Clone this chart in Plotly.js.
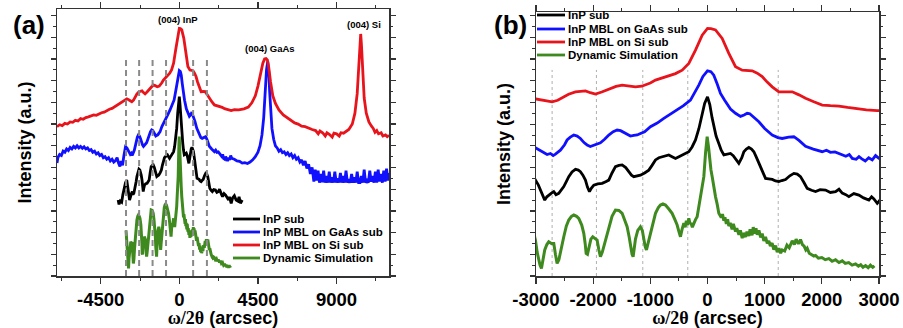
<!DOCTYPE html>
<html><head><meta charset="utf-8">
<script src="https://cdn.plot.ly/plotly-3.0.1.min.js"></script>
<style>html,body{margin:0;padding:0;background:#fff}#chart{width:903px;height:328px}</style>
</head><body><div id="chart"></div>
<script>
// ---------- DATA (omega/2theta in arcsec, intensity in arbitrary offset units) ----------
const seriesNames = ['InP sub', 'InP MBL on GaAs sub', 'InP MBL on Si sub', 'Dynamic Simulation'];

const redX = [-7000,-6850,-6700,-6550,-6400,-6250,-6100,-5950,-5800,-5650,-5500,-5350,-5200,-5050,-4900,-4750,-4600,-4450,-4300,-4150,-4000,-3850,-3700,-3550,-3400,-3250,-3120,
 -3000,-2900,-2800,-2718,-2620,-2543,-2430,-2310,-2200,-2135,-2050,-1960,-1850,-1727,-1600,-1493,-1380,-1260,-1150,-1085,-1000,-910,-800,-677,-560,-443,-327,-210,-93,0,60,140,257,373,490,607,700,782,870,957,1040,1132,1248,1360,1482,1600,1715,1860,2007,2150,2298,2450,2590,2780,2969,
 3150,3400,3700,3950,4150,4350,4500,4650,4780,4880,4960,5040,5120,5220,5350,5500,5700,5950,6250,6600,6800,7000,7200,7400,7600,7800,7950,8050,8200,8350,8450,8600,8750,8850,9000,9150,9250,9400,9550,9700,9900,10050,10180,10280,10340,10380,10420,10480,10580,10700,10850,11000,11100,11200,11300,11400,11550,11650,11800,11900,12000];
const redY = [6.88,6.97,6.93,7.03,7.0,7.1,7.08,7.17,7.14,7.25,7.22,7.3,7.33,7.36,7.42,7.4,7.48,7.52,7.55,7.62,7.68,7.72,7.8,7.86,7.95,8.05,8.12,
 8.16,8.12,8.07,8.03,8.1,8.23,8.38,8.49,8.53,8.53,8.45,8.39,8.48,8.6,8.74,8.8,8.77,8.72,8.75,8.8,8.9,9.03,9.12,9.22,9.33,9.49,9.8,10.41,11.1,11.41,11.4,11.34,10.95,10.26,9.65,9.49,9.48,9.46,9.35,9.19,8.95,8.72,8.49,8.5,8.49,8.35,8.19,8.03,7.88,7.85,7.83,7.77,7.71,7.66,7.62,
 7.66,7.65,7.7,7.78,7.98,8.3,8.75,9.3,9.8,10.0,10.02,9.95,9.6,8.95,8.3,7.95,7.65,7.42,7.25,7.05,7.0,6.9,6.88,6.8,6.75,6.7,6.55,6.68,6.6,6.45,6.6,6.52,6.4,6.58,6.55,6.45,6.6,6.58,6.65,6.75,7.0,7.5,8.4,9.8,10.8,11.15,10.7,9.5,8.2,7.5,7.1,6.9,6.8,6.62,6.7,6.55,6.6,6.45,6.5,6.42,6.48];

const blueX = [-7000,-6950,-6850,-6750,-6650,-6550,-6450,-6350,-6250,-6150,-6050,-5950,-5850,-5750,-5650,-5550,-5450,-5350,-5250,-5150,-5050,-4950,-4850,-4750,-4650,-4550,-4450,-4350,-4250,-4150,-4050,-3950,-3850,-3750,-3650,-3560,-3480,-3400,-3330,-3250,-3170,-3080,
 -3000,-2930,-2870,-2806,-2748,-2700,-2660,-2573,-2500,-2456,-2400,-2339,-2280,-2223,-2160,-2106,-2050,-2018,-1950,-1873,-1800,-1727,-1650,-1581,-1520,-1464,-1400,-1348,-1290,-1230,-1172,-1100,-998,-880,-764,-650,-531,-420,-298,-220,-152,-80,0,60,110,170,227,300,402,490,577,640,694,740,800,898,1000,1132,1230,1307,1420,1511,1600,1715,1850,2007,2080,2150,2230,2298,2360,2420,2480,2532,2600,2650,2700,2760,2820,2882,2940,3000,
 3150,3300,3450,3600,3750,3900,4050,4200,4350,4500,4620,4730,4830,4920,4990,5060,5120,5170,5230,5300,5400,5500,5600,5700,5800,5900,6000,6100,6200,6300,6400,6500,6600,6700,6800,6900,7000,7100,7200,7300,7400,7500,7600,
 7700,7780,7860,7940,8020,8100,8180,8260,8340,8420,8500,8580,8660,8740,8820,8900,8980,9060,9140,9220,9300,9380,9460,9540,9620,9700,9780,9860,9940,10020,10100,10180,10260,10340,10420,10500,10580,10660,10740,10820,10900,10980,11060,11140,11220,11300,11380,11460,11540,11620,11700,11780,11860,11940,12000];
const blueY = [5.2,5.45,5.6,5.55,5.75,5.7,5.85,5.78,5.92,5.85,5.97,5.9,6.0,5.9,5.97,5.88,5.95,5.85,5.9,5.78,5.82,5.7,5.75,5.62,5.68,5.55,5.6,5.45,5.5,5.38,5.45,5.3,5.38,5.25,5.32,5.45,5.2,5.05,5.3,5.1,5.55,5.95,
 5.9,5.8,5.7,5.6,5.65,5.55,5.62,5.8,6.05,6.27,6.4,6.5,6.45,6.34,6.15,6.04,5.97,6.0,6.05,6.14,6.3,6.5,6.65,6.73,6.7,6.62,6.5,6.45,6.48,6.5,6.57,6.65,6.88,7.05,7.27,7.45,7.65,7.85,8.11,8.45,8.8,9.2,9.46,9.42,9.26,8.85,8.42,8.1,7.7,7.5,7.36,7.42,7.5,7.48,7.35,7.11,6.8,6.5,6.38,6.34,6.4,6.42,6.25,5.98,5.85,5.73,5.8,5.7,5.72,5.65,5.58,5.52,5.6,5.42,5.38,5.5,5.4,5.3,5.45,5.35,5.55,5.42,
 5.38,5.3,5.28,5.2,5.22,5.18,5.25,5.35,5.5,5.7,6.0,6.5,7.3,8.6,9.5,9.88,9.4,8.5,7.5,6.8,6.3,6.0,5.9,5.75,5.82,5.68,5.72,5.6,5.68,5.55,5.62,5.45,5.55,5.38,5.45,5.25,5.35,5.1,5.3,4.95,5.15,4.7,5.0,
 4.35,4.9,4.4,4.85,4.3,4.7,4.32,4.85,4.3,4.6,4.3,4.8,4.3,4.55,4.3,4.8,4.3,4.5,4.3,4.75,4.3,4.6,4.3,4.85,4.3,4.45,4.3,4.7,4.3,4.55,4.3,4.8,4.3,4.3,4.6,4.3,4.9,4.3,4.4,4.3,4.85,4.35,4.6,4.3,4.8,4.3,4.9,4.35,4.7,4.3,4.85,4.35,4.95,4.4,4.75];

const blackX = [-3500,-3450,-3380,-3300,-3230,-3150,-3080,
 -3010,-2960,-2922,-2880,-2847,-2810,-2777,-2730,-2689,-2650,-2602,-2560,-2514,-2470,-2427,-2370,-2310,-2260,-2223,-2180,-2135,-2100,-2065,-2030,-1989,-1920,-1843,-1780,-1727,-1670,-1610,-1550,-1493,-1430,-1377,-1330,-1289,-1230,-1173,-1100,-1027,-970,-910,-850,-793,-740,-677,-620,-560,-500,-443,-380,-327,-270,-210,-150,-93,-50,0,40,80,111,150,198,240,286,340,402,450,490,548,600,636,680,723,770,811,850,898,950,1015,1070,1132,1190,1248,1300,1365,1440,1511,1570,1627,1690,1744,1820,1890,1970,2065,2150,2240,2300,2357,2420,2473,2560,2648,2730,2823,2870,2911,2969,
 3050,3150,3250,3350,3420,3500,3600];
const blackY = [3.5,3.3,3.45,3.4,3.75,4.1,4.3,
 4.42,4.2,3.96,3.7,3.5,3.65,3.73,3.82,3.89,3.75,3.81,3.95,4.12,4.35,4.58,4.8,4.92,4.88,4.81,4.65,4.42,4.1,3.89,4.05,4.19,4.25,4.27,4.35,4.42,4.75,5.04,5.1,5.12,5.0,4.81,4.65,4.58,4.62,4.65,4.75,4.88,5.1,5.35,5.45,5.5,5.55,5.58,5.5,5.42,5.5,5.58,5.65,5.73,5.95,6.27,6.8,7.5,7.95,8.26,7.9,7.3,6.88,6.45,6.11,5.8,5.58,5.6,5.65,5.55,5.42,5.19,5.45,5.73,5.85,5.93,5.85,5.73,5.5,5.19,4.85,4.5,4.48,4.45,4.38,4.35,4.4,4.45,4.62,4.73,4.7,4.58,4.3,4.04,3.95,3.89,3.98,3.96,3.85,3.89,4.0,3.82,3.75,3.66,3.8,3.73,3.6,3.5,3.65,3.55,3.35,
 3.6,3.7,3.5,3.45,3.65,3.35,3.5];

const greenX = [-3050,-3010,-2980,-2952,-2930,-2905,-2880,-2847,-2810,-2777,-2730,-2689,-2660,-2631,-2600,-2560,-2514,-2470,-2427,-2380,-2339,-2290,-2252,-2200,-2164,-2140,-2123,-2100,-2077,-2040,-2007,-1970,-1931,-1900,-1873,-1840,-1814,-1770,-1727,-1670,-1610,-1550,-1493,-1450,-1406,-1370,-1348,-1320,-1301,-1280,-1260,-1220,-1173,-1140,-1114,-1090,-1068,-1040,-998,-950,-910,-860,-823,-780,-735,-680,-619,-570,-531,-500,-473,-445,-414,-390,-370,-350,-327,-305,-290,-265,-239,-210,-181,-150,-123,-90,-64,-35,-6,20,35,60,82,110,140,170,198,
 240,262,286,305,330,352,373,398,430,452,490,512,550,575,607,628,665,690,723,745,780,800,825,848,870,900,930,957,985,1015,1045,1073,1100,1130,1160,1190,1220,1250,1280,1307,1350,1390,1430,1482,1520,1550,1590,1627,1660,1690,1720,1744,1780,1820,1860,1890,1940,2000,2060,2123,2180,2240,2300,2357,2410,2470,2530,2590,2640,2680,2720,2765,2810,2850,2890,2920];
const greenY = [2.1,1.66,1.1,0.74,0.5,0.35,0.8,1.2,1.45,1.58,1.5,1.5,1.0,0.58,0.75,1.3,1.81,2.3,2.58,2.75,2.81,2.75,2.66,2.35,1.97,1.5,1.04,1.0,1.3,1.7,1.81,1.75,1.66,1.2,0.89,1.1,1.35,1.85,2.27,2.75,3.04,3.02,2.89,2.6,2.27,1.8,1.35,1.0,0.89,1.3,1.7,2.1,2.27,2.1,1.7,1.35,1.2,1.5,1.97,2.5,2.89,3.15,3.27,3.32,3.27,3.1,2.89,2.6,2.35,2.05,1.81,2.15,2.43,2.25,2.55,2.35,2.66,2.4,2.45,2.25,2.43,2.6,2.73,3.2,3.66,4.1,4.58,5.65,6.42,5.9,5.35,4.9,4.58,4.1,3.66,3.3,2.89,
 2.7,2.85,2.55,2.7,2.4,2.62,2.3,2.45,2.15,2.4,2.05,2.2,1.9,2.1,1.75,1.98,1.8,2.05,1.85,2.15,1.88,2.25,1.95,2.2,1.9,2.1,1.78,1.95,1.62,1.8,1.5,1.62,1.38,1.52,1.22,1.4,1.1,1.28,1.05,1.2,1.15,1.42,1.3,1.62,1.45,1.7,1.48,1.68,1.45,1.38,1.2,1.28,1.05,1.0,0.92,0.95,0.82,0.85,0.75,0.8,0.68,0.75,0.62,0.7,0.58,0.62,0.5,0.56,0.45,0.52,0.4,0.48,0.38,0.5,0.4,0.47];

// reference guide lines
const dashX = [-3050, -2300, -1530, -760, 790, 1580];   // panel (a) dashed fringe markers
const dashTop = 9.95;
const dotX = [-2718, -1943, -1132, -345, 1237];          // panel (b) dotted fringe markers
const dotTop = 9.5;

// axis tick labels
const ticksA = [-4500, 0, 4500, 9000];
const tickTextA = ['-4500', '0', '4500', '9000'];
const ticksB = [-3000, -2000, -1000, 0, 1000, 2000, 3000];
const tickTextB = ['-3000', '-2000', '-1000', '0', '1000', '2000', '3000'];

// peak labels [text, x, y]
const peakLabels = [['(004) InP', -100, 11.82], ['(004) GaAs', 5214, 10.5], ['(004) Si', 10543, 11.57]];

// ---------- STYLE ----------
const W = 903, H = 328;
const FONT = 'Liberation Sans, Arial, sans-serif';
const colors = ['#000000', '#1010ff', '#e8141c', '#3e8a1e'];
const widths = [2.8, 2.8, 2.8, 3];
const seriesX = [blackX, blueX, redX, greenX];
const seriesY = [blackY, blueY, redY, greenY];
const fx = p => p / W, fy = p => (H - p) / H;

function guide(xs, top) {
  const x = [], y = [];
  xs.forEach(v => { x.push(v, v, null); y.push(0, top, null); });
  return {x, y};
}

const traces = [];
const drawOrder = [3, 0, 1, 2];
['a', 'b'].forEach(p => {
  const xa = p === 'a' ? 'x' : 'x2', ya = p === 'a' ? 'y' : 'y2';
  drawOrder.forEach(i => {
    traces.push({type: 'scatter', mode: 'lines', x: seriesX[i], y: seriesY[i], name: seriesNames[i],
      xaxis: xa, yaxis: ya, line: {color: colors[i], width: widths[i]}, hoverinfo: 'skip', showlegend: false});
  });
});
const gA = guide(dashX, dashTop), gB = guide(dotX, dotTop);
traces.push({type: 'scatter', mode: 'lines', x: gA.x, y: gA.y, xaxis: 'x', yaxis: 'y',
  line: {color: '#8a8a8a', width: 2, dash: '6px,4px'}, hoverinfo: 'skip', showlegend: false});
traces.unshift({type: 'scatter', mode: 'lines', x: gB.x, y: gB.y, xaxis: 'x2', yaxis: 'y2',
  line: {color: '#b0b0b0', width: 1, dash: 'dot'}, hoverinfo: 'skip', showlegend: false});

const tickFont = {family: FONT, size: 18.5, color: '#000', weight: 'bold'};
const titleFont = {family: FONT, size: 18, color: '#000', weight: 'bold'};
const xTitle = '<span style="font-family:Liberation Serif">ω/2θ</span> (arcsec)';

function xAxis(domain, range, vals, texts, minorD) {
  return {domain, range, tickmode: 'array', tickvals: vals, ticktext: texts, ticks: 'outside', ticklen: 6, tickwidth: 1.3,
    tickcolor: '#333', showline: true, linecolor: '#333', linewidth: 1.5, mirror: 'ticks', showgrid: false, zeroline: false,
    minor: {ticks: 'outside', ticklen: 3, tickwidth: 1, tickcolor: '#333', dtick: minorD, tick0: 0, showgrid: false},
    tickfont: tickFont, title: {text: xTitle, font: titleFont, standoff: 3}, fixedrange: true};
}
function yAxis(domain, range, anchor) {
  return {domain, range, anchor, tickmode: 'linear', tick0: 0, dtick: 1, ticks: 'outside', ticklen: 5, tickwidth: 1.3,
    tickcolor: '#333', showticklabels: false, showline: true, linecolor: '#333', linewidth: 1.5, mirror: 'ticks',
    showgrid: false, zeroline: false,
    minor: {ticks: 'outside', ticklen: 2.5, tickwidth: 1, tickcolor: '#333', dtick: 0.5, tick0: 0, showgrid: false},
    title: {text: 'Intensity (a.u.)', font: titleFont, standoff: 14}, fixedrange: true};
}

const annotations = [];
annotations.push({xref: 'paper', yref: 'paper', x: fx(29), y: fy(25), text: '(a)', showarrow: false,
  xanchor: 'center', yanchor: 'middle', font: {family: FONT, size: 26, color: '#000', weight: 'bold'}});
annotations.push({xref: 'paper', yref: 'paper', x: fx(510), y: fy(25), text: '(b)', showarrow: false,
  xanchor: 'center', yanchor: 'middle', font: {family: FONT, size: 26, color: '#000', weight: 'bold'}});
peakLabels.forEach(([t, x, y]) => annotations.push({xref: 'x', yref: 'y', x, y, text: t, showarrow: false,
  xanchor: 'center', yanchor: 'middle', font: {family: FONT, size: 9.5, color: '#000', weight: 'bold'}}));

const shapes = [];
function legend(lx0, lx1, tx, rows) {
  seriesNames.forEach((n, i) => {
    shapes.push({type: 'line', xref: 'paper', yref: 'paper', x0: fx(lx0), x1: fx(lx1), y0: fy(rows[i]), y1: fy(rows[i]),
      line: {color: colors[i], width: 2.8}});
    annotations.push({xref: 'paper', yref: 'paper', x: fx(tx), y: fy(rows[i]), text: n, showarrow: false,
      xanchor: 'left', yanchor: 'middle', font: {family: FONT, size: 11.5, color: '#000', weight: 'bold'}});
  });
}
legend(233, 260, 261, [219, 232, 245, 258]);
legend(537, 565, 566, [15, 29, 42, 55]);

const layout = {
  width: W, height: H, margin: {l: 0, r: 0, t: 0, b: 0}, paper_bgcolor: '#fff', plot_bgcolor: '#fff',
  showlegend: false, hovermode: false,
  xaxis: xAxis([fx(57), fx(389)], [-7000, 12000], ticksA, tickTextA, 2250),
  yaxis: yAxis([fy(276), fy(9)], [0, 12.3], 'x'),
  xaxis2: Object.assign(xAxis([fx(536), fx(879)], [-3000, 3000], ticksB, tickTextB, 500), {anchor: 'y2'}),
  yaxis2: yAxis([fy(276), fy(12)], [0, 12.17], 'x2'),
  annotations, shapes
};
layout.xaxis.anchor = 'y';
Plotly.newPlot('chart', traces, layout, {staticPlot: true, displayModeBar: false});
</script></body></html>
